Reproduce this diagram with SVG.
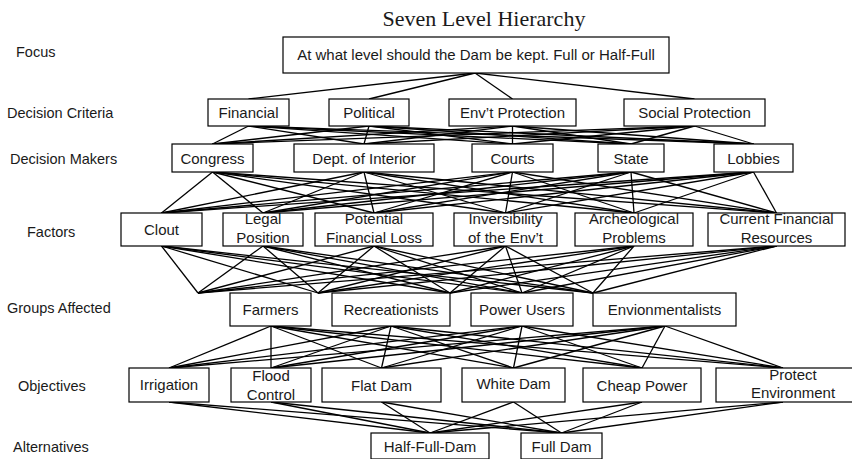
<svg xmlns="http://www.w3.org/2000/svg" width="852" height="459" viewBox="0 0 852 459">
<style>
.bg{fill:#fff}
.box{fill:#fff;stroke:#000;stroke-width:1.2}
.t{font-family:"Liberation Sans",Arial,sans-serif;font-size:15px;fill:#1a1a1a;text-anchor:middle}
.lab{font-family:"Liberation Sans",Arial,sans-serif;font-size:14.5px;fill:#1a1a1a}
.title{font-family:"Liberation Serif","Times New Roman",serif;font-size:22px;fill:#1a1a1a;text-anchor:middle}
#connectors line{stroke:#000;stroke-width:1.3}
</style>
<rect class="bg" x="0" y="0" width="852" height="459"/>
<text class="title" x="484" y="26">Seven Level Hierarchy</text>
<g id="labels">
<text class="lab" x="16" y="57">Focus</text>
<text class="lab" x="7" y="118">Decision Criteria</text>
<text class="lab" x="10" y="164">Decision Makers</text>
<text class="lab" x="27" y="237">Factors</text>
<text class="lab" x="7" y="313">Groups Affected</text>
<text class="lab" x="18" y="391">Objectives</text>
<text class="lab" x="13" y="452">Alternatives</text>
</g>
<g id="connectors">
<!-- focus to criteria -->
<line x1="475" y1="73" x2="248.5" y2="99"/>
<line x1="475" y1="73" x2="369" y2="99"/>
<line x1="475" y1="73" x2="512.5" y2="99"/>
<line x1="475" y1="73" x2="694.5" y2="99"/>
<!-- criteria to makers -->
<line x1="248.5" y1="126" x2="212.5" y2="144"/><line x1="248.5" y1="126" x2="364" y2="144"/><line x1="248.5" y1="126" x2="512.5" y2="144"/><line x1="248.5" y1="126" x2="631" y2="144"/><line x1="248.5" y1="126" x2="753.5" y2="144"/>
<line x1="369" y1="126" x2="212.5" y2="144"/><line x1="369" y1="126" x2="364" y2="144"/><line x1="369" y1="126" x2="512.5" y2="144"/><line x1="369" y1="126" x2="631" y2="144"/><line x1="369" y1="126" x2="753.5" y2="144"/>
<line x1="512.5" y1="126" x2="212.5" y2="144"/><line x1="512.5" y1="126" x2="364" y2="144"/><line x1="512.5" y1="126" x2="512.5" y2="144"/><line x1="512.5" y1="126" x2="631" y2="144"/><line x1="512.5" y1="126" x2="753.5" y2="144"/>
<line x1="694.5" y1="126" x2="212.5" y2="144"/><line x1="694.5" y1="126" x2="364" y2="144"/><line x1="694.5" y1="126" x2="512.5" y2="144"/><line x1="694.5" y1="126" x2="631" y2="144"/><line x1="694.5" y1="126" x2="753.5" y2="144"/>
<!-- makers to factors -->
<line x1="212.5" y1="172" x2="161.5" y2="213"/><line x1="212.5" y1="172" x2="263" y2="213"/><line x1="212.5" y1="172" x2="374" y2="213"/><line x1="212.5" y1="172" x2="505.5" y2="213"/><line x1="212.5" y1="172" x2="634" y2="213"/><line x1="212.5" y1="172" x2="776.5" y2="213"/>
<line x1="364" y1="172" x2="161.5" y2="213"/><line x1="364" y1="172" x2="263" y2="213"/><line x1="364" y1="172" x2="374" y2="213"/><line x1="364" y1="172" x2="505.5" y2="213"/><line x1="364" y1="172" x2="634" y2="213"/><line x1="364" y1="172" x2="776.5" y2="213"/>
<line x1="512.5" y1="172" x2="161.5" y2="213"/><line x1="512.5" y1="172" x2="263" y2="213"/><line x1="512.5" y1="172" x2="374" y2="213"/><line x1="512.5" y1="172" x2="505.5" y2="213"/><line x1="512.5" y1="172" x2="634" y2="213"/><line x1="512.5" y1="172" x2="776.5" y2="213"/>
<line x1="631" y1="172" x2="161.5" y2="213"/><line x1="631" y1="172" x2="263" y2="213"/><line x1="631" y1="172" x2="374" y2="213"/><line x1="631" y1="172" x2="505.5" y2="213"/><line x1="631" y1="172" x2="634" y2="213"/><line x1="631" y1="172" x2="776.5" y2="213"/>
<line x1="753.5" y1="172" x2="161.5" y2="213"/><line x1="753.5" y1="172" x2="263" y2="213"/><line x1="753.5" y1="172" x2="374" y2="213"/><line x1="753.5" y1="172" x2="505.5" y2="213"/><line x1="753.5" y1="172" x2="634" y2="213"/><line x1="753.5" y1="172" x2="776.5" y2="213"/>
<!-- factors to groups -->
<line x1="161.5" y1="246" x2="198" y2="293"/><line x1="161.5" y1="246" x2="318" y2="293"/><line x1="161.5" y1="246" x2="450" y2="293"/><line x1="161.5" y1="246" x2="522" y2="293"/><line x1="161.5" y1="246" x2="593" y2="293"/>
<line x1="263" y1="246" x2="198" y2="293"/><line x1="263" y1="246" x2="318" y2="293"/><line x1="263" y1="246" x2="450" y2="293"/><line x1="263" y1="246" x2="522" y2="293"/><line x1="263" y1="246" x2="593" y2="293"/>
<line x1="374" y1="246" x2="198" y2="293"/><line x1="374" y1="246" x2="318" y2="293"/><line x1="374" y1="246" x2="450" y2="293"/><line x1="374" y1="246" x2="522" y2="293"/><line x1="374" y1="246" x2="593" y2="293"/>
<line x1="505.5" y1="246" x2="198" y2="293"/><line x1="505.5" y1="246" x2="318" y2="293"/><line x1="505.5" y1="246" x2="450" y2="293"/><line x1="505.5" y1="246" x2="522" y2="293"/><line x1="505.5" y1="246" x2="593" y2="293"/>
<line x1="634" y1="246" x2="198" y2="293"/><line x1="634" y1="246" x2="318" y2="293"/><line x1="634" y1="246" x2="450" y2="293"/><line x1="634" y1="246" x2="522" y2="293"/><line x1="634" y1="246" x2="593" y2="293"/>
<line x1="776.5" y1="246" x2="198" y2="293"/><line x1="776.5" y1="246" x2="318" y2="293"/><line x1="776.5" y1="246" x2="450" y2="293"/><line x1="776.5" y1="246" x2="522" y2="293"/><line x1="776.5" y1="246" x2="593" y2="293"/>
<!-- groups to objectives -->
<line x1="271" y1="326" x2="169" y2="368"/><line x1="271" y1="326" x2="271" y2="368"/><line x1="271" y1="326" x2="381.5" y2="368"/><line x1="271" y1="326" x2="513.5" y2="368"/><line x1="271" y1="326" x2="642" y2="368"/><line x1="271" y1="326" x2="783" y2="368"/>
<line x1="391" y1="326" x2="169" y2="368"/><line x1="391" y1="326" x2="271" y2="368"/><line x1="391" y1="326" x2="381.5" y2="368"/><line x1="391" y1="326" x2="513.5" y2="368"/><line x1="391" y1="326" x2="642" y2="368"/><line x1="391" y1="326" x2="783" y2="368"/>
<line x1="522" y1="326" x2="169" y2="368"/><line x1="522" y1="326" x2="271" y2="368"/><line x1="522" y1="326" x2="381.5" y2="368"/><line x1="522" y1="326" x2="513.5" y2="368"/><line x1="522" y1="326" x2="642" y2="368"/><line x1="522" y1="326" x2="783" y2="368"/>
<line x1="665" y1="326" x2="169" y2="368"/><line x1="665" y1="326" x2="271" y2="368"/><line x1="665" y1="326" x2="381.5" y2="368"/><line x1="665" y1="326" x2="513.5" y2="368"/><line x1="665" y1="326" x2="642" y2="368"/><line x1="665" y1="326" x2="783" y2="368"/>
<!-- objectives to alternatives -->
<line x1="169" y1="402" x2="430" y2="433"/><line x1="169" y1="402" x2="561.5" y2="433"/>
<line x1="271" y1="402" x2="430" y2="433"/><line x1="271" y1="402" x2="561.5" y2="433"/>
<line x1="381.5" y1="402" x2="430" y2="433"/><line x1="381.5" y1="402" x2="561.5" y2="433"/>
<line x1="513.5" y1="402" x2="430" y2="433"/><line x1="513.5" y1="402" x2="561.5" y2="433"/>
<line x1="642" y1="402" x2="430" y2="433"/><line x1="642" y1="402" x2="561.5" y2="433"/>
<line x1="783" y1="402" x2="430" y2="433"/><line x1="783" y1="402" x2="561.5" y2="433"/>
</g>
<g id="focus"><rect class="box" x="283" y="37" width="386" height="36"/><text class="t" x="476" y="60">At what level should the Dam be kept. Full or Half-Full</text></g>
<g id="financial"><rect class="box" x="208" y="99" width="81" height="27"/><text class="t" x="248.5" y="118">Financial</text></g>
<g id="political"><rect class="box" x="329" y="99" width="80" height="27"/><text class="t" x="369" y="118">Political</text></g>
<g id="envt-protection"><rect class="box" x="449" y="99" width="127" height="27"/><text class="t" x="512.5" y="118">Env’t Protection</text></g>
<g id="social-protection"><rect class="box" x="624" y="99" width="141" height="27"/><text class="t" x="694.5" y="118">Social Protection</text></g>
<g id="congress"><rect class="box" x="172" y="144" width="81" height="28"/><text class="t" x="212.5" y="163.5">Congress</text></g>
<g id="dept-interior"><rect class="box" x="294" y="144" width="140" height="28"/><text class="t" x="364" y="163.5">Dept. of Interior</text></g>
<g id="courts"><rect class="box" x="472" y="144" width="81" height="28"/><text class="t" x="512.5" y="163.5">Courts</text></g>
<g id="state"><rect class="box" x="598" y="144" width="66" height="28"/><text class="t" x="631" y="163.5">State</text></g>
<g id="lobbies"><rect class="box" x="714" y="144" width="79" height="28"/><text class="t" x="753.5" y="163.5">Lobbies</text></g>
<g id="clout"><rect class="box" x="121" y="213" width="81" height="33"/><text class="t" x="161.5" y="235">Clout</text></g>
<g id="legal-position"><rect class="box" x="223" y="213" width="80" height="33"/><text class="t" x="263" y="224">Legal</text><text class="t" x="263" y="243">Position</text></g>
<g id="potential-loss"><rect class="box" x="315" y="213" width="118" height="33"/><text class="t" x="374" y="224">Potential</text><text class="t" x="374" y="243">Financial Loss</text></g>
<g id="inversibility"><rect class="box" x="454" y="213" width="103" height="33"/><text class="t" x="505.5" y="224">Inversibility</text><text class="t" x="505.5" y="243">of the Env’t</text></g>
<g id="archeological"><rect class="box" x="575" y="213" width="118" height="33"/><text class="t" x="634" y="224">Archeological</text><text class="t" x="634" y="243">Problems</text></g>
<g id="current-financial"><rect class="box" x="708" y="213" width="137" height="33"/><text class="t" x="776.5" y="224">Current Financial</text><text class="t" x="776.5" y="243">Resources</text></g>
<g id="farmers"><rect class="box" x="230" y="293" width="81" height="33"/><text class="t" x="270.5" y="315">Farmers</text></g>
<g id="recreationists"><rect class="box" x="332" y="293" width="118" height="33"/><text class="t" x="391" y="315">Recreationists</text></g>
<g id="power-users"><rect class="box" x="471" y="293" width="102" height="33"/><text class="t" x="522" y="315">Power Users</text></g>
<g id="envionmentalists"><rect class="box" x="593" y="293" width="143" height="33"/><text class="t" x="664.5" y="315">Envionmentalists</text></g>
<g id="irrigation"><rect class="box" x="129" y="368" width="80" height="34"/><text class="t" x="169" y="390">Irrigation</text></g>
<g id="flood-control"><rect class="box" x="231" y="368" width="80" height="34"/><text class="t" x="271" y="381">Flood</text><text class="t" x="271" y="400">Control</text></g>
<g id="flat-dam"><rect class="box" x="322" y="368" width="119" height="34"/><text class="t" x="381.5" y="391">Flat Dam</text></g>
<g id="white-dam"><rect class="box" x="462" y="368" width="103" height="34"/><text class="t" x="513.5" y="389">White Dam</text></g>
<g id="cheap-power"><rect class="box" x="583" y="368" width="118" height="34"/><text class="t" x="642" y="391">Cheap Power</text></g>
<g id="protect-environment"><rect class="box" x="716" y="368" width="140" height="34"/><text class="t" x="793" y="380">Protect</text><text class="t" x="793" y="398">Environment</text></g>
<g id="half-full-dam"><rect class="box" x="371" y="433" width="118" height="26"/><text class="t" x="430" y="452">Half-Full-Dam</text></g>
<g id="full-dam"><rect class="box" x="521" y="433" width="81" height="26"/><text class="t" x="561.5" y="452">Full Dam</text></g>
</svg>
